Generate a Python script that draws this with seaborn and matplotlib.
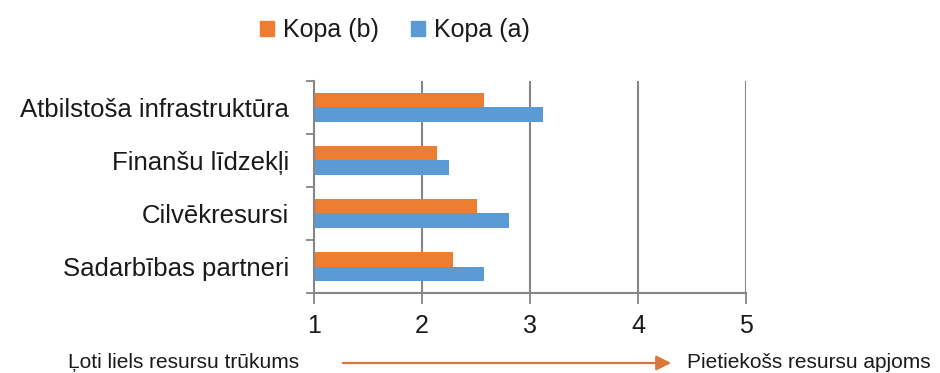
import matplotlib
matplotlib.use("Agg")
import matplotlib.pyplot as plt
import seaborn as sns
import pandas as pd

categories = ["Atbilstoša infrastruktūra", "Finanšu līdzekļi", "Cilvēkresursi", "Sadarbības partneri"]
kopa_b = [2.57, 2.14, 2.51, 2.29]
kopa_a = [3.12, 2.25, 2.81, 2.57]
series_names = ["Kopa (b)", "Kopa (a)"]
x_ticks = [1, 2, 3, 4, 5]
left_note = "Ļoti liels resursu trūkums"
right_note = "Pietiekošs resursu apjoms"

colors = ["#ED7D31", "#5B9BD5"]
grid_col = "#868686"
text_col = "#1a1a1a"

df = pd.DataFrame({
    "kategorija": categories * 2,
    "vertiba": kopa_b + kopa_a,
    "kopa": [series_names[0]] * len(categories) + [series_names[1]] * len(categories),
})

sns.set_theme(style="white")
plt.rcParams["font.family"] = ["Liberation Sans", "DejaVu Sans"]
plt.rcParams["text.color"] = text_col

fig = plt.figure(figsize=(9.4, 3.73), dpi=100)
ax = fig.add_axes([314 / 940, 1 - 293 / 373, (746 - 314) / 940, (293 - 81) / 373])

sns.barplot(data=df, y="kategorija", x="vertiba", hue="kopa", hue_order=series_names,
            order=categories, palette=colors, width=0.56, orient="h", ax=ax,
            saturation=1, legend=False)

# bars start at the axis minimum of 1
for patch in ax.patches:
    w = patch.get_width()
    patch.set_x(1)
    patch.set_width(w - 1)
    patch.set_linewidth(0)

ax.set_xlim(1, 5)
ax.set_ylim(len(categories) - 0.5, -0.5)
ax.set_xticks(x_ticks)
ax.set_xticklabels([str(t) for t in x_ticks], fontsize=18)
ax.set_xlabel("")
ax.set_ylabel("")
ax.tick_params(axis="y", which="major", labelsize=18.5, length=0, pad=18, left=True,
               labelcolor=text_col)
ax.tick_params(axis="x", which="major", bottom=True, length=8, width=1.3, color=grid_col,
               direction="out", pad=7, labelcolor=text_col)

# tick marks between categories on the category axis
ax.set_yticks([i - 0.5 for i in range(len(categories) + 1)], minor=True)
ax.tick_params(axis="y", which="minor", left=True, length=6, width=1.3, color=grid_col,
               direction="out")

for x in x_ticks[1:]:
    ax.axvline(x, color=grid_col, lw=1.5, zorder=0)

for side in ["top", "right"]:
    ax.spines[side].set_visible(False)
for side in ["left", "bottom"]:
    ax.spines[side].set_color(grid_col)
    ax.spines[side].set_linewidth(1.5)

# legend
handles = [plt.Rectangle((0, 0), 1, 1, color=c) for c in colors]
fig.legend(handles, series_names, loc="center", bbox_to_anchor=(395 / 940, 1 - 30 / 373),
           ncol=2, frameon=False, fontsize=18, handlelength=0.55, handleheight=0.55,
           handletextpad=0.35, columnspacing=1.3)

# scale direction notes
fig.text(68 / 940, 1 - 362 / 373, left_note, fontsize=15, va="center", ha="left")
fig.text(687 / 940, 1 - 362 / 373, right_note, fontsize=15, va="center", ha="left")
fig.patches.append(matplotlib.patches.FancyArrowPatch(
    (340 / 940, 1 - 363 / 373), (674 / 940, 1 - 363 / 373),
    transform=fig.transFigure, arrowstyle="-|>,head_length=9,head_width=4.5",
    color="#D9773A", lw=1.6, mutation_scale=1))

fig.savefig("out.png", dpi=100)
